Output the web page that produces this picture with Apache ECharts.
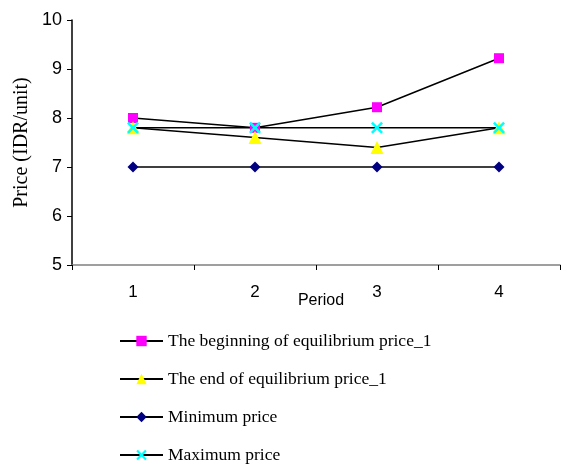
<!DOCTYPE html>
<html><head><meta charset="utf-8">
<script src="https://cdn.jsdelivr.net/npm/echarts@6/dist/echarts.min.js"></script>
<style>html,body{margin:0;padding:0;background:#fff}#c{width:564px;height:467px}</style>
</head><body><div id="c"></div>
<script>
const periods = ['1','2','3','4'];
const beginEq = [8.0, 7.8, 8.22, 9.22];
const endEq = [7.8, 7.6, 7.4, 7.8];
const minPrice = [7, 7, 7, 7];
const maxPrice = [7.8, 7.8, 7.8, 7.8];
const seriesNames = ['The beginning of equilibrium price_1','The end of equilibrium price_1','Minimum price','Maximum price'];
const yTicks = {min:5, max:10, interval:1};

const crossPath = 'path://M0,1.5L1.5,0L5,3.5L8.5,0L10,1.5L6.5,5L10,8.5L8.5,10L5,6.5L1.5,10L0,8.5L3.5,5Z';
const chart = echarts.init(document.getElementById('c'));
function mk(name, data, symbol, color, size){
  return {name, type:'line', data, symbol, symbolSize:size, showSymbol:true,
    lineStyle:{color:'#000', width:1.5}, itemStyle:{color, borderWidth:0},
    emphasis:{disabled:true}, animation:false, z: 2};
}
chart.setOption({
  animation:false,
  grid:{left:72, right:4, top:20, bottom:202},
  legend:{orient:'vertical', left:114, top:327, height:200, itemWidth:43, itemHeight:13, itemGap:20,
    textStyle:{fontFamily:'Liberation Serif', fontSize:17.5, color:'#000'},
    data: seriesNames},
  xAxis:{type:'category', data:periods, boundaryGap:true,
    axisLine:{lineStyle:{color:'#808080', width:1.5}},
    axisTick:{show:true, length:5, lineStyle:{color:'#000'}},
    axisLabel:{fontFamily:'Liberation Sans', fontSize:17, color:'#000', margin:19},
    name:'Period', nameLocation:'middle', nameGap:28, nameMoveOverlap:false,
    nameTextStyle:{fontFamily:'Liberation Sans', fontSize:16, color:'#000', padding:[0,0,0,10]}},
  yAxis:{type:'value', min:yTicks.min, max:yTicks.max, interval:yTicks.interval,
    splitLine:{show:false},
    axisLine:{show:true, lineStyle:{color:'#000', width:1.5}},
    axisTick:{show:true, length:5, lineStyle:{color:'#000'}},
    axisLabel:{fontFamily:'Liberation Sans', fontSize:18, color:'#000', margin:10},
    name:'Price (IDR/unit)', nameLocation:'middle', nameGap:40, nameMoveOverlap:false,
    nameTextStyle:{fontFamily:'Liberation Serif', fontSize:20, color:'#000'}},
  series:[
    mk(seriesNames[0], beginEq, 'rect', '#ff00ff', 10),
    mk(seriesNames[1], endEq, 'triangle', '#ffff00', 13),
    mk(seriesNames[2], minPrice, 'diamond', '#000080', 11),
    mk(seriesNames[3], maxPrice, crossPath, '#00ffff', 12)
  ]
});
</script></body></html>
